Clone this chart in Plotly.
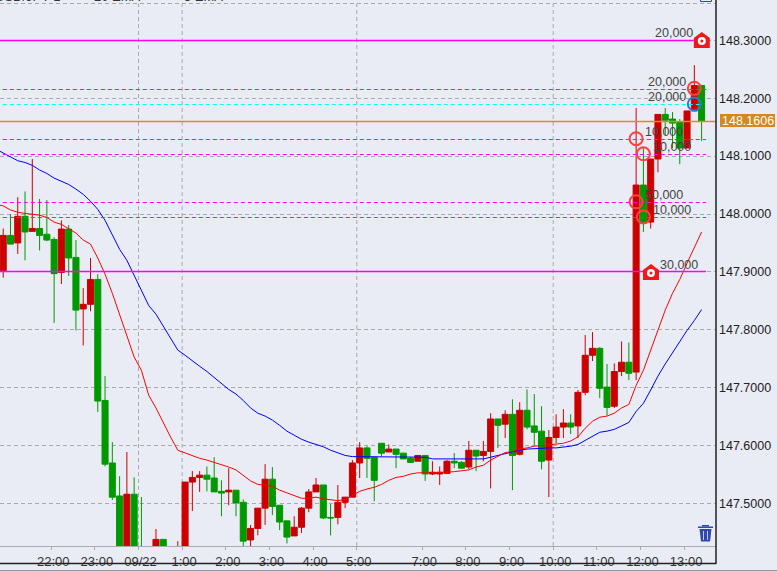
import math
import plotly.graph_objects as go

bar_index = list(range(97))
open_ = [147.902,147.963,147.950,147.996,147.970,147.975,147.965,147.956,147.899,147.974,
147.925,147.836,147.844,147.887,147.678,147.570,147.513,147.402,147.516,147.419,
147.410,147.402,147.438,147.390,147.405,147.415,147.537,147.545,147.549,147.544,
147.521,147.520,147.523,147.502,147.437,147.457,147.492,147.542,147.497,147.470,
147.444,147.459,147.492,147.520,147.532,147.476,147.476,147.502,147.511,147.570,
147.596,147.580,147.604,147.589,147.594,147.587,147.578,147.573,147.583,147.551,
147.551,147.552,147.573,147.571,147.563,147.592,147.583,147.590,147.646,147.637,
147.654,147.585,147.661,147.634,147.625,147.575,147.614,147.632,147.639,147.634,
147.692,147.756,147.768,147.701,147.668,147.728,147.744,147.727,148.050,147.986,
148.095,148.172,148.164,148.158,148.114,148.178,148.222]
high = [147.975,148.000,148.029,148.039,148.095,148.026,148.024,147.960,147.989,147.981,
147.955,147.872,147.924,147.896,147.720,147.606,147.547,147.589,147.545,147.511,
147.415,147.456,147.438,147.410,147.435,147.537,147.556,147.556,147.564,147.580,
147.540,147.561,147.523,147.507,147.463,147.492,147.568,147.563,147.497,147.470,
147.478,147.494,147.525,147.544,147.532,147.499,147.532,147.511,147.575,147.606,
147.599,147.580,147.604,147.602,147.594,147.587,147.580,147.583,147.583,147.573,
147.564,147.575,147.587,147.573,147.608,147.592,147.608,147.656,147.646,147.661,
147.680,147.675,147.697,147.689,147.668,147.627,147.654,147.663,147.654,147.696,
147.791,147.796,147.770,147.741,147.742,147.780,147.778,148.183,148.114,148.095,
148.172,148.183,148.176,148.164,148.178,148.257,148.222]
low = [147.890,147.948,147.931,147.920,147.970,147.937,147.953,147.812,147.879,147.893,
147.799,147.773,147.832,147.658,147.564,147.506,147.385,147.393,147.402,147.393,
147.380,147.385,147.400,147.380,147.390,147.400,147.487,147.520,147.521,147.520,
147.478,147.497,147.478,147.423,147.423,147.445,147.463,147.480,147.454,147.431,
147.444,147.449,147.485,147.520,147.473,147.445,147.464,147.492,147.511,147.544,
147.544,147.504,147.582,147.589,147.561,147.577,147.571,147.573,147.539,147.549,
147.532,147.552,147.561,147.561,147.559,147.556,147.573,147.526,147.596,147.613,
147.523,147.583,147.628,147.601,147.559,147.511,147.604,147.613,147.620,147.613,
147.687,147.746,147.682,147.652,147.665,147.720,147.713,147.713,147.969,147.975,
148.072,148.136,148.114,148.086,148.114,148.178,148.126]
close = [147.963,147.948,147.996,147.969,147.975,147.963,147.955,147.897,147.974,147.924,
147.834,147.844,147.887,147.677,147.568,147.511,147.402,147.516,147.416,147.409,
147.390,147.438,147.410,147.405,147.420,147.537,147.545,147.549,147.542,147.520,
147.518,147.523,147.501,147.435,147.457,147.492,147.542,147.495,147.468,147.442,
147.459,147.492,147.520,147.532,147.475,147.475,147.502,147.511,147.570,147.596,
147.578,147.540,147.587,147.594,147.585,147.577,147.571,147.583,147.551,147.554,
147.554,147.573,147.570,147.561,147.592,147.582,147.590,147.646,147.635,147.654,
147.583,147.661,147.632,147.623,147.573,147.614,147.632,147.639,147.632,147.692,
147.756,147.768,147.699,147.666,147.728,147.744,147.725,148.050,147.984,148.095,
148.172,148.162,148.157,148.114,148.178,148.222,148.160]

# the moving averages start one bar before the first visible candle
ema_bars = list(range(-1, 97))
ema_20 = [148.112,148.105,148.099,148.092,148.089,148.084,148.076,148.070,148.062,148.057,148.051,
148.043,148.034,148.022,148.008,147.989,147.963,147.939,147.920,147.894,147.868,
147.842,147.827,147.806,147.785,147.765,147.756,147.746,147.737,147.728,147.718,
147.708,147.697,147.689,147.678,147.665,147.656,147.651,147.644,147.635,147.625,
147.618,147.611,147.606,147.602,147.598,147.592,147.587,147.583,147.581,147.581,
147.581,147.581,147.581,147.581,147.581,147.581,147.581,147.581,147.580,147.577,
147.577,147.577,147.577,147.577,147.576,147.577,147.577,147.580,147.583,147.587,
147.589,147.592,147.594,147.595,147.596,147.596,147.596,147.597,147.599,147.602,
147.609,147.616,147.623,147.625,147.628,147.634,147.640,147.659,147.673,147.696,
147.720,147.741,147.761,147.780,147.799,147.816,147.835]
ema_5 = [148.017,148.014,148.007,148.003,148.001,148.000,147.998,147.994,147.986,147.982,147.975,
147.967,147.955,147.948,147.924,147.896,147.863,147.825,147.791,147.753,147.730,
147.687,147.665,147.639,147.615,147.592,147.587,147.582,147.578,147.575,147.571,
147.568,147.563,147.558,147.549,147.539,147.533,147.532,147.530,147.523,147.518,
147.513,147.509,147.509,147.511,147.508,147.506,147.505,147.507,147.514,147.521,
147.525,147.528,147.533,147.540,147.545,147.547,147.551,147.553,147.553,147.553,
147.553,147.554,147.555,147.557,147.558,147.563,147.566,147.575,147.582,147.588,
147.590,147.594,147.596,147.599,147.600,147.601,147.602,147.604,147.608,147.615,
147.630,147.642,147.649,147.651,147.656,147.665,147.671,147.704,147.730,147.765,
147.799,147.834,147.863,147.887,147.915,147.943,147.969]

tick_bars = [7,13,19,25,31,37,43,49,58,64,70,76,82,88,94]
tick_labels = ["22:00","23:00","09/22","1:00","2:00","3:00","4:00","5:00","7:00","8:00","9:00","10:00","11:00","12:00","13:00"]
grid_bars = [19,25,49,76]

solid_levels = [148.300, 147.900]
solid_ends = [94.9, 96.6]
magenta_levels = [148.215, 148.129, 148.103, 148.020, 147.994]
cyan_level = 148.189
last_price = 148.1606

red_circle_bars = [87, 88, 87, 88, 95]
red_circle_prices = [148.130, 148.104, 148.021, 147.995, 148.217]
blue_circle_bars = [95]
blue_circle_prices = [148.190]
alert_bars = [96.03, 89.04]
alert_prices = [148.299, 147.898]

order_labels = ["20,000","20,000","20,000","10,000","10,000","50,000","10,000","30,000"]
order_label_px = [(674,33),(667,82),(667,97),(664,132),(672,147),(664,195),(672,210),(679,265)]

W, H, PW, PH = 777, 571, 716, 546
SCALE = 579.0
BARPX = 7.275
FONT = "Liberation Sans"
BG = "#e9ecf4"
RED, GREEN = "#cc0000", "#009900"

def px(x): return x / PW
def py(y): return 1 - y / PH
def snap(p):
    # centre a level on a pixel row so that it stays one crisp pixel thick
    y = 503.5 - (p - 147.5) * SCALE
    return 147.5 + (503.5 - (math.floor(y - 0.01) + 0.5)) / SCALE

fig = go.Figure()
fig.add_trace(go.Candlestick(
    x=bar_index, open=open_, high=high, low=low, close=close,
    increasing=dict(line=dict(color=RED, width=1), fillcolor=RED),
    decreasing=dict(line=dict(color=GREEN, width=1), fillcolor=GREEN),
    whiskerwidth=0, showlegend=False, hoverinfo="skip"))
fig.add_trace(go.Scatter(x=ema_bars, y=ema_20, mode="lines", line=dict(color="#0000ff", width=1), showlegend=False, hoverinfo="skip"))
fig.add_trace(go.Scatter(x=ema_bars, y=ema_5, mode="lines", line=dict(color="#ff0000", width=1), showlegend=False, hoverinfo="skip"))

for lv in magenta_levels:
    fig.add_trace(go.Scatter(x=[-0.05, 96.6], y=[snap(lv)]*2, mode="lines", line=dict(color="#ff00ff", width=1, dash="4px,3px"), showlegend=False, hoverinfo="skip"))
fig.add_trace(go.Scatter(x=[-0.05, 95.9], y=[snap(cyan_level)]*2, mode="lines", line=dict(color="#00ffff", width=1, dash="4px,3px"), showlegend=False, hoverinfo="skip"))

fig.add_trace(go.Scatter(x=red_circle_bars, y=red_circle_prices, mode="markers",
    marker=dict(symbol="circle-open", size=13, color="#ff4040", line=dict(width=2, color="#ff4040")), showlegend=False, hoverinfo="skip"))
fig.add_trace(go.Scatter(x=blue_circle_bars, y=blue_circle_prices, mode="markers",
    marker=dict(symbol="circle-open", size=13, color="#2080d0", line=dict(width=2, color="#2080d0")), showlegend=False, hoverinfo="skip"))

shapes = []
for b in grid_bars:
    shapes.append(dict(type="line", xref="x", yref="paper", x0=b-0.4, x1=b-0.4, y0=0, y1=py(3.5),
                       line=dict(color="#aaaaaa", width=1, dash="4px,3px"), layer="below"))
shapes.append(dict(type="line", xref="paper", yref="paper", x0=0, x1=1, y0=py(3.5), y1=py(3.5),
                   line=dict(color="#aaaaaa", width=1, dash="4px,3px"), layer="below"))
# solid levels and the last price as real lines on the price scale
shapes.append(dict(type="line", xref="paper", yref="y", x0=0, x1=1, y0=snap(last_price), y1=snap(last_price),
                   line=dict(color="#e08a1e", width=1.4), layer="above"))
for lv, end in zip(solid_levels, solid_ends):
    shapes.append(dict(type="line", xref="x", yref="y", x0=-0.44, x1=end, y0=snap(lv), y1=snap(lv),
                       line=dict(color="#ff00ff", width=1.4), layer="above"))
# house-shaped alert icons anchored on their level
for ab, ap in zip(alert_bars, alert_prices):
    common = dict(xref="x", yref="y", xsizemode="pixel", ysizemode="pixel", xanchor=ab, yanchor=ap)
    shapes.append(dict(type="path", path="M -8 -7 L 8 -7 L 8 3 L 0 9 L -8 3 Z", fillcolor="#f01818", line=dict(width=0), **common))
    shapes.append(dict(type="circle", x0=-4, x1=4, y0=-4, y1=4, fillcolor="#ffffff", line=dict(width=0), **common))
    shapes.append(dict(type="circle", x0=-1.5, x1=1.5, y0=-1.5, y1=1.5, fillcolor="#f01818", line=dict(width=0), **common))
# frame
shapes.append(dict(type="line", xref="paper", yref="paper", x0=0, x1=px(716.5), y0=py(563.5), y1=py(563.5), line=dict(color="#222222", width=1.5)))
shapes.append(dict(type="line", xref="paper", yref="paper", x0=px(716), x1=px(716), y0=py(563.5), y1=1, line=dict(color="#222222", width=1.5)))
shapes.append(dict(type="line", xref="paper", yref="paper", x0=0, x1=px(777), y0=py(570.5), y1=py(570.5), line=dict(color="#999999", width=1)))
# price tag
shapes.append(dict(type="rect", xref="paper", yref="paper", x0=px(720), x1=px(775), y0=py(127), y1=py(114), fillcolor="#d9861a", line=dict(width=0)))
# trash icon
trash = "#3048a8"
shapes.append(dict(type="path", xref="paper", yref="paper",
    path=f"M {px(699.5)} {py(529)} L {px(711.5)} {py(529)} L {px(710)} {py(541.5)} L {px(701)} {py(541.5)} Z",
    fillcolor=trash, line=dict(width=0)))
shapes.append(dict(type="rect", xref="paper", yref="paper", x0=px(698), x1=px(713), y0=py(528), y1=py(526.5), fillcolor=trash, line=dict(width=0)))
shapes.append(dict(type="rect", xref="paper", yref="paper", x0=px(702), x1=px(709), y0=py(526.5), y1=py(525), fillcolor=trash, line=dict(width=0)))
for sx in (703.5, 707.5):
    shapes.append(dict(type="line", xref="paper", yref="paper", x0=px(sx), x1=px(sx), y0=py(531), y1=py(540), line=dict(color="#c0c8e8", width=1)))
# corner icon at the top edge
shapes.append(dict(type="rect", xref="paper", yref="paper", x0=px(700.5), x1=px(711.5), y0=py(1.5), y1=py(-3), fillcolor="rgba(0,0,0,0)", line=dict(color="#3048a8", width=1)))

ann = []
for t, (xp, yp) in zip(order_labels, order_label_px):
    ann.append(dict(text=t, xref="paper", yref="paper", x=px(xp), y=py(yp), xanchor="center", yanchor="middle", showarrow=False,
                    font=dict(family=FONT, size=12.5, color="#444444")))
ann.append(dict(text="148.1606", xref="paper", yref="paper", x=px(747.5), y=py(120.5), xanchor="center", yanchor="middle", showarrow=False,
                font=dict(family=FONT, size=12.5, color="#ffffff")))
for t, xp in [("USD/JPY 1", 28), ("20 EMA", 117), ("5 EMA", 204)]:
    ann.append(dict(text=t, xref="paper", yref="paper", x=px(xp), y=py(-4), xanchor="center", yanchor="middle", showarrow=False,
                    font=dict(family=FONT, size=13, color="#333333")))

fig.update_layout(
    width=W, height=H, margin=dict(l=0, r=W-PW, t=0, b=H-PH, pad=0),
    paper_bgcolor=BG, plot_bgcolor=BG, showlegend=False,
    boxgap=0.17, boxgroupgap=0,
    shapes=shapes, annotations=ann,
    xaxis=dict(range=[-3.2/BARPX, (PW-3.2)/BARPX], tickmode="array",
               tickvals=[b-0.4 for b in tick_bars], ticktext=tick_labels,
               showgrid=False, zeroline=False, rangeslider=dict(visible=False),
               showline=True, linecolor="#aaaaaa", linewidth=1,
               ticks="outside", ticklen=3, tickcolor="#aaaaaa", tickwidth=1,
               ticklabelshift=2,
               tickfont=dict(family=FONT, size=13, color="#333333")),
    yaxis=dict(range=[147.5-42.5/SCALE, 147.5+503.5/SCALE], side="right", tick0=147.5, dtick=0.1, tickformat=".4f",
               showgrid=True, gridcolor="#aaaaaa", griddash="4px,3px", gridwidth=1, zeroline=False, showline=False, ticks="",
               ticklabelstandoff=2,
               tickfont=dict(family=FONT, size=12.5, color="#222222")),
)
fig.write_html("out.html", config=dict(displayModeBar=False),
    post_script="document.body.style.margin='0';")
